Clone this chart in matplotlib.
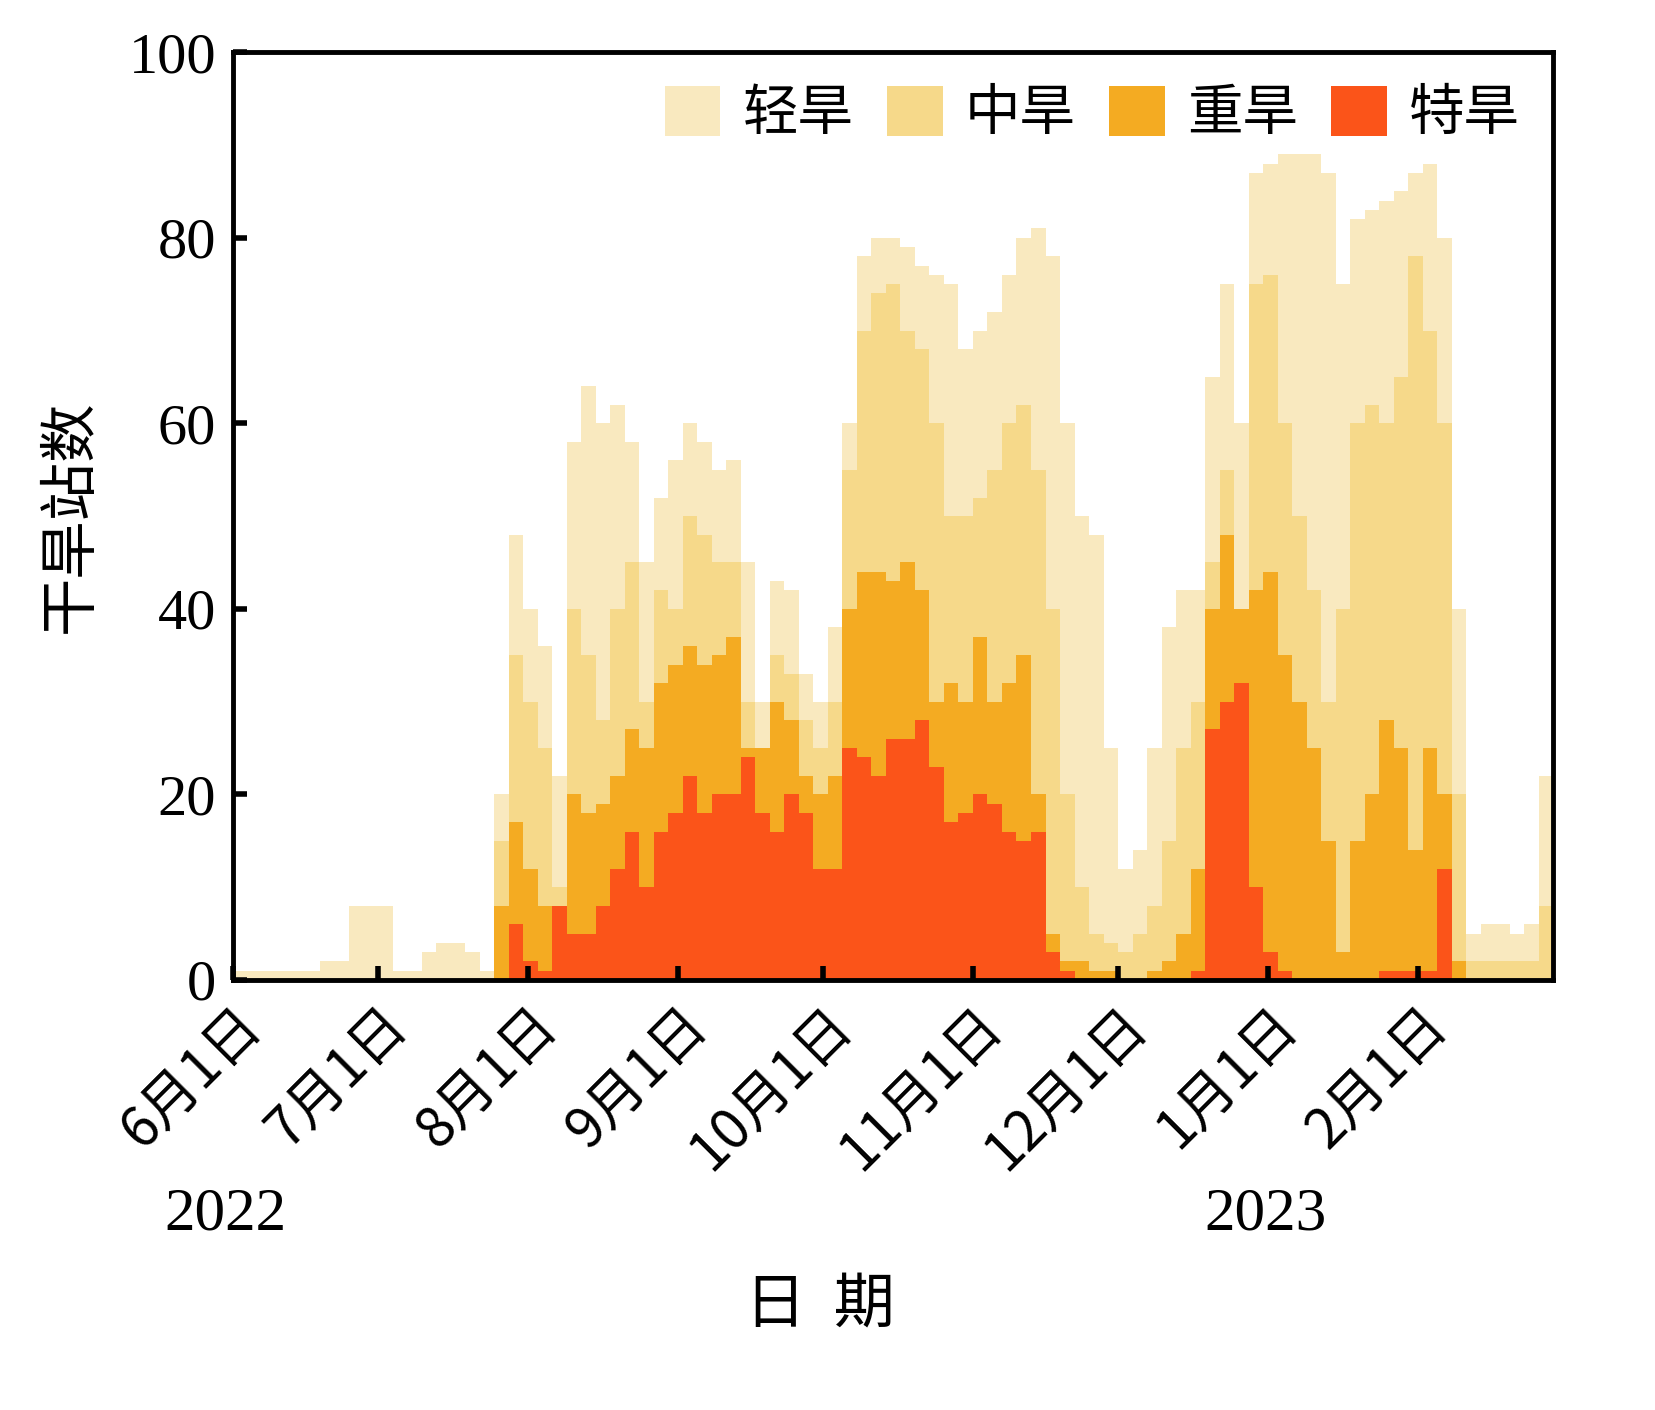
import numpy as np
import matplotlib.pyplot as plt

# Drought station counts, sampled every 3 days from 2022-06-01
light = [1, 1, 1, 1, 1, 1, 2, 2, 8, 8,
         8, 1, 1, 3, 4, 4, 3, 1, 20, 48,
         40, 36, 22, 58, 64, 60, 62, 58, 45, 52,
         56, 60, 58, 55, 56, 45, 30, 43, 42, 33,
         30, 38, 60, 78, 80, 80, 79, 77, 76, 75,
         68, 70, 72, 76, 80, 81, 78, 60, 50, 48,
         25, 12, 14, 25, 38, 42, 42, 65, 75, 60,
         87, 88, 89, 89, 89, 87, 75, 82, 83, 84,
         85, 87, 88, 80, 40, 5, 6, 6, 5, 6,
         22]
mid = [0, 0, 0, 0, 0, 0, 0, 0, 0, 0,
       0, 0, 0, 0, 0, 0, 0, 0, 15, 35,
       30, 25, 10, 40, 35, 28, 40, 45, 30, 42,
       40, 50, 48, 45, 45, 30, 22, 35, 33, 28,
       25, 30, 55, 70, 74, 75, 70, 68, 60, 50,
       50, 52, 55, 60, 62, 55, 40, 20, 10, 5,
       4, 3, 5, 8, 15, 25, 30, 45, 55, 40,
       75, 76, 60, 50, 42, 30, 40, 60, 62, 60,
       65, 78, 70, 60, 20, 2, 2, 2, 2, 2,
       8]
heavy = [0, 0, 0, 0, 0, 0, 0, 0, 0, 0,
         0, 0, 0, 0, 0, 0, 0, 0, 8, 17,
         12, 8, 3, 20, 18, 19, 22, 27, 25, 32,
         34, 36, 34, 35, 37, 25, 25, 30, 28, 22,
         20, 22, 40, 44, 44, 43, 45, 42, 30, 32,
         30, 37, 30, 32, 35, 20, 5, 2, 2, 1,
         1, 0, 0, 1, 2, 5, 12, 40, 48, 40,
         42, 44, 35, 30, 25, 15, 3, 15, 20, 28,
         25, 14, 25, 20, 2, 0, 0, 0, 0, 0,
         0]
extreme = [0, 0, 0, 0, 0, 0, 0, 0, 0, 0,
           0, 0, 0, 0, 0, 0, 0, 0, 0, 6,
           2, 1, 8, 5, 5, 8, 12, 16, 10, 16,
           18, 22, 18, 20, 20, 24, 18, 16, 20, 18,
           12, 12, 25, 24, 22, 26, 26, 28, 23, 17,
           18, 20, 19, 16, 15, 16, 3, 1, 0, 0,
           0, 0, 0, 0, 0, 0, 1, 27, 30, 32,
           10, 3, 1, 0, 0, 0, 0, 0, 0, 1,
           1, 1, 1, 12, 0, 0, 0, 0, 0, 0,
           0]
names = ['轻旱', '中旱', '重旱', '特旱']
colors = ['#f9e9bf', '#f6d98a', '#f4ab22', '#fb5419']
tick_days = [0, 30, 61, 92, 122, 153, 183, 214, 245]
tick_labels = ['6月1日', '7月1日', '8月1日', '9月1日', '10月1日',
               '11月1日', '12月1日', '1月1日', '2月1日']

cjk = ['Noto Sans CJK SC', 'DejaVu Sans']
serif = 'Liberation Serif'

days = np.append(np.arange(0, 273, 3), 273)

fig = plt.figure(figsize=(16.56, 14.1), dpi=100)
ax = fig.add_axes([0.1407, 0.305, 0.7973, 0.658])

for vals, name, c in zip([light, mid, heavy, extreme], names, colors):
    y = np.append(vals, vals[-1])
    ax.fill_between(days, 0, y, step='post', color=c, linewidth=0, label=name)

ax.set_xlim(0, 273)
ax.set_ylim(0, 100)
ax.set_yticks([0, 20, 40, 60, 80, 100])
ax.set_yticklabels(['0', '20', '40', '60', '80', '100'], fontfamily=serif, fontsize=42)
ax.set_xticks(tick_days)
ax.set_xticklabels(tick_labels, rotation=45, ha='right', rotation_mode='anchor',
                   fontfamily=cjk, fontsize=40)
ax.tick_params(direction='in', length=10, width=4, pad=12)
for s in ax.spines.values():
    s.set_linewidth(3.5)

ax.set_ylabel('干旱站数', fontfamily=cjk, fontsize=42, labelpad=20)
fig.text(0.136, 0.128, '2022', fontfamily=serif, fontsize=44, ha='center')
fig.text(0.764, 0.128, '2023', fontfamily=serif, fontsize=44, ha='center')
fig.text(0.495, 0.062, '日  期', fontfamily=cjk, fontsize=44, ha='center')

ax.legend(loc='upper right', ncol=4, frameon=False, prop={'family': cjk, 'size': 40},
          handlelength=1.0, handleheight=1.0, handletextpad=0.4, columnspacing=0.6,
          borderaxespad=0.2)

fig.savefig('out.png', dpi=100)
